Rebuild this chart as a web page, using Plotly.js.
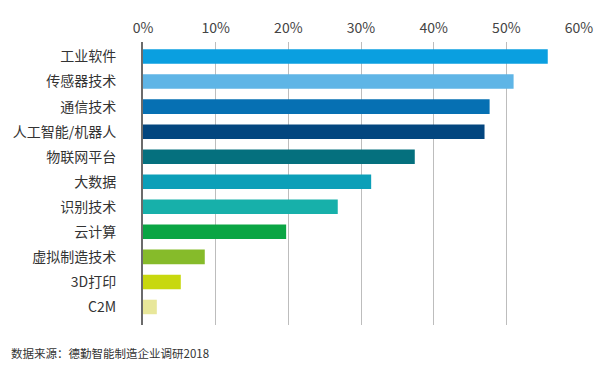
<!DOCTYPE html>
<html>
<head>
<meta charset="utf-8">
<script src="https://cdn.plot.ly/plotly-3.0.1.min.js"></script>
<style>html,body{margin:0;padding:0;background:#fff;}#chart{width:614px;height:376px;}</style>
</head>
<body>
<div id="chart"></div>
<script>
var categories = ["工业软件", "传感器技术", "通信技术", "人工智能/机器人", "物联网平台", "大数据", "识别技术", "云计算", "虚拟制造技术", "3D打印", "C2M"];
var values = [55.7, 51.0, 47.7, 47.0, 37.4, 31.4, 26.8, 19.7, 8.5, 5.2, 1.9];
var barColors = ["#0a9fe0", "#5fb5e6", "#0670b3", "#03467f", "#05707e", "#0c9fb8", "#17b0aa", "#0aa544", "#86bb2a", "#c8d80e", "#e8e79a"];
var xTickVals = [0, 10, 20, 30, 40, 50, 60];
var xTickText = ["0%", "10%", "20%", "30%", "40%", "50%", "60%"];
var sourceText = "数据来源：德勤智能制造企业调研2018";

var font = "'Noto Sans CJK SC', 'Noto Sans', sans-serif";

var trace = {
  type: "bar",
  orientation: "h",
  x: values,
  y: categories,
  width: 0.58,
  marker: {color: barColors},
  hoverinfo: "x+y"
};

var layout = {
  width: 614,
  height: 376,
  margin: {l: 143, r: 35, t: 42, b: 51},
  paper_bgcolor: "#fff",
  plot_bgcolor: "#fff",
  font: {family: font, color: "#333"},
  showlegend: false,
  xaxis: {
    side: "top",
    range: [0, 60],
    tickvals: xTickVals,
    ticktext: xTickText,
    showgrid: true,
    gridcolor: "#bdbdbd",
    gridwidth: 1,
    zeroline: false,
    showline: false,
    ticks: "",
    ticklabelstandoff: 5,
    tickfont: {family: font, size: 14, color: "#444"},
    fixedrange: true
  },
  yaxis: {
    type: "category",
    range: [10.72, -0.58],
    showline: true,
    linecolor: "#6b6b6b",
    linewidth: 2,
    showgrid: false,
    zeroline: false,
    ticks: "",
    ticklabelstandoff: 22,
    tickfont: {family: font, size: 14, color: "#333"},
    fixedrange: true
  },
  annotations: [{
    text: sourceText,
    xref: "paper", yref: "paper",
    x: -143/436 + 9/436, y: -28/283,
    xanchor: "left", yanchor: "middle",
    showarrow: false,
    font: {family: font, size: 11.5, color: "#333"}
  }]
};

Plotly.newPlot("chart", [trace], layout, {displayModeBar: false, staticPlot: true});
</script>
</body>
</html>
